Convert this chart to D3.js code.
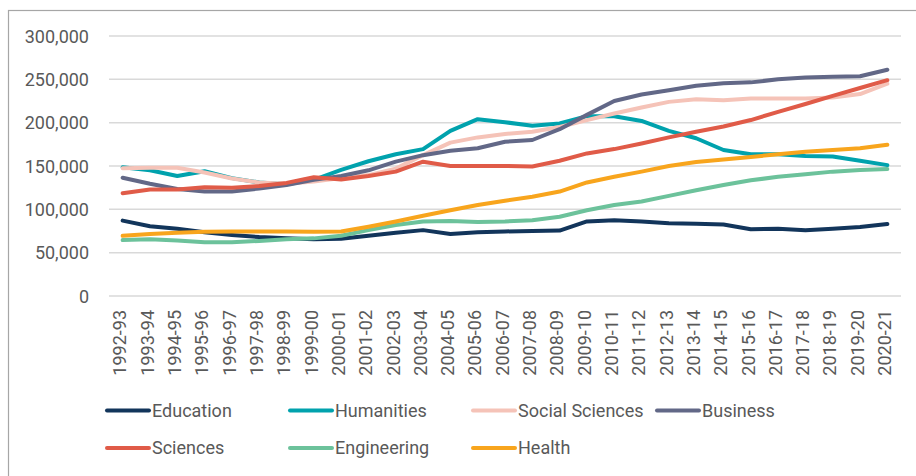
<!DOCTYPE html>
<html>
<head>
<meta charset="utf-8">
<script src="https://cdn.jsdelivr.net/npm/d3@7"></script>
<style>
  html, body { margin: 0; padding: 0; background: #fff; }
  svg { display: block; font-family: Roboto, "Noto Sans", sans-serif; }
</style>
</head>
<body>
<svg id="chart" width="916" height="476"></svg>
<script>
const categories = ["1992-93","1993-94","1994-95","1995-96","1996-97","1997-98","1998-99","1999-00","2000-01","2001-02","2002-03","2003-04","2004-05","2005-06","2006-07","2007-08","2008-09","2009-10","2010-11","2011-12","2012-13","2013-14","2014-15","2015-16","2016-17","2017-18","2018-19","2019-20","2020-21"];

const education = [87000, 80500, 77500, 73500, 70500, 68000, 66500, 65500, 66000, 69500, 73000, 76000, 71500, 73500, 74500, 75000, 75500, 86000, 87300, 86000, 84000, 83500, 82500, 77000, 77500, 76000, 77500, 79500, 83000];
const humanities = [148500, 145000, 138500, 144000, 136000, 131000, 129000, 134000, 145500, 155500, 163500, 169500, 190500, 204000, 200500, 196500, 199000, 207500, 207500, 202000, 190500, 182000, 168500, 163500, 163500, 161500, 161000, 156000, 151000];
const socialSciences = [147500, 148000, 148000, 142500, 135500, 131000, 129500, 132000, 136000, 139500, 147000, 162500, 177000, 183000, 187000, 189500, 195000, 203000, 210500, 217500, 224000, 227000, 226000, 228000, 228000, 228000, 229000, 233000, 245000];
const business = [136500, 129500, 123500, 120500, 120500, 124000, 128000, 134000, 138500, 145000, 155000, 162500, 167500, 170500, 178000, 180000, 192500, 209000, 225000, 232500, 237500, 242500, 245500, 246500, 250000, 252000, 253000, 253500, 261000];
const sciences = [118500, 123000, 123000, 125500, 125000, 127000, 130500, 137000, 134500, 138500, 143500, 155000, 150000, 150000, 150000, 149500, 156000, 164500, 169500, 176000, 183000, 189500, 195500, 203000, 212500, 221500, 231000, 240000, 249000];
const engineering = [64500, 65500, 64000, 62000, 62000, 63500, 65500, 66500, 69500, 76000, 82000, 86000, 86500, 85500, 86000, 87500, 91500, 99000, 105000, 109000, 115500, 122000, 128000, 133500, 137500, 140500, 143500, 145500, 146500];
const health = [69500, 71500, 73000, 74000, 74500, 74500, 74500, 74000, 74500, 80000, 86000, 92500, 99000, 105000, 110000, 114500, 120500, 131000, 137500, 143500, 150000, 154500, 157500, 160500, 163500, 166500, 168500, 170500, 174500];

const seriesNames = ["Education","Humanities","Social Sciences","Business","Sciences","Engineering","Health"];
const seriesValues = [education, humanities, socialSciences, business, sciences, engineering, health];
const seriesColors = ["#12355b","#00a2ad","#f5c3b8","#626887","#e05b48","#6cc29b","#f8a51d"];
const yTicks = [0, 50000, 100000, 150000, 200000, 250000, 300000];

const svg = d3.select("#chart");
const textColor = "#595959";
const fontSize = 18;

// outer border
svg.append("rect")
  .attr("x", 8.5).attr("y", 10.5)
  .attr("width", 940).attr("height", 500)
  .attr("fill", "none").attr("stroke", "#a6a6a6").attr("stroke-width", 1.2);

const plot = { left: 109, right: 901, top: 36, bottom: 296 };

const x = d3.scaleBand().domain(categories).range([plot.left, plot.right]).padding(0);
const y = d3.scaleLinear().domain([0, 300000]).range([plot.bottom, plot.top]);

// gridlines
svg.append("g").selectAll("line").data(yTicks).join("line")
  .attr("x1", plot.left).attr("x2", plot.right)
  .attr("y1", d => y(d)).attr("y2", d => y(d))
  .attr("stroke", "#d9d9d9").attr("stroke-width", 1.5);

// y axis labels
const yAxis = d3.axisLeft(y).tickValues(yTicks).tickSize(0).tickPadding(0)
  .tickFormat(d3.format(","));
const gy = svg.append("g").attr("transform", `translate(${89},0)`).call(yAxis);
gy.select(".domain").remove();
gy.selectAll("text").attr("fill", textColor).attr("font-size", fontSize)
  .attr("font-family", "Roboto").attr("dy", "0.35em");

// x axis labels
const xAxis = d3.axisBottom(x).tickSize(0).tickPadding(0);
const gx = svg.append("g").attr("transform", `translate(0,${plot.bottom})`).call(xAxis);
gx.select(".domain").remove();
gx.selectAll("text")
  .attr("fill", textColor).attr("font-size", fontSize).attr("font-family", "Roboto")
  .attr("text-anchor", "end")
  .attr("transform", "translate(-2,14) rotate(-90)")
  .attr("x", 0).attr("y", 0).attr("dy", "0.32em");

// lines
const line = d3.line()
  .x((d, i) => x(categories[i]) + x.bandwidth() / 2)
  .y(d => y(d));

svg.append("g").selectAll("path").data(seriesValues).join("path")
  .attr("d", d => line(d))
  .attr("fill", "none")
  .attr("stroke", (d, i) => seriesColors[i])
  .attr("stroke-width", 4)
  .attr("stroke-linecap", "round")
  .attr("stroke-linejoin", "round");

// legend
const legendCols = [106, 289, 472, 656];
const legendRows = [410.5, 448];
const legend = svg.append("g");
seriesNames.forEach((name, i) => {
  const col = i < 4 ? i : i - 4;
  const row = i < 4 ? 0 : 1;
  const lx = legendCols[col], ly = legendRows[row];
  legend.append("line")
    .attr("x1", lx + 1).attr("x2", lx + 43).attr("y1", ly).attr("y2", ly)
    .attr("stroke", seriesColors[i]).attr("stroke-width", 4).attr("stroke-linecap", "round");
  legend.append("text")
    .attr("x", lx + 46).attr("y", ly).attr("dy", "0.35em")
    .attr("fill", textColor).attr("font-size", fontSize).attr("font-family", "Roboto")
    .text(name);
});
</script>
</body>
</html>
